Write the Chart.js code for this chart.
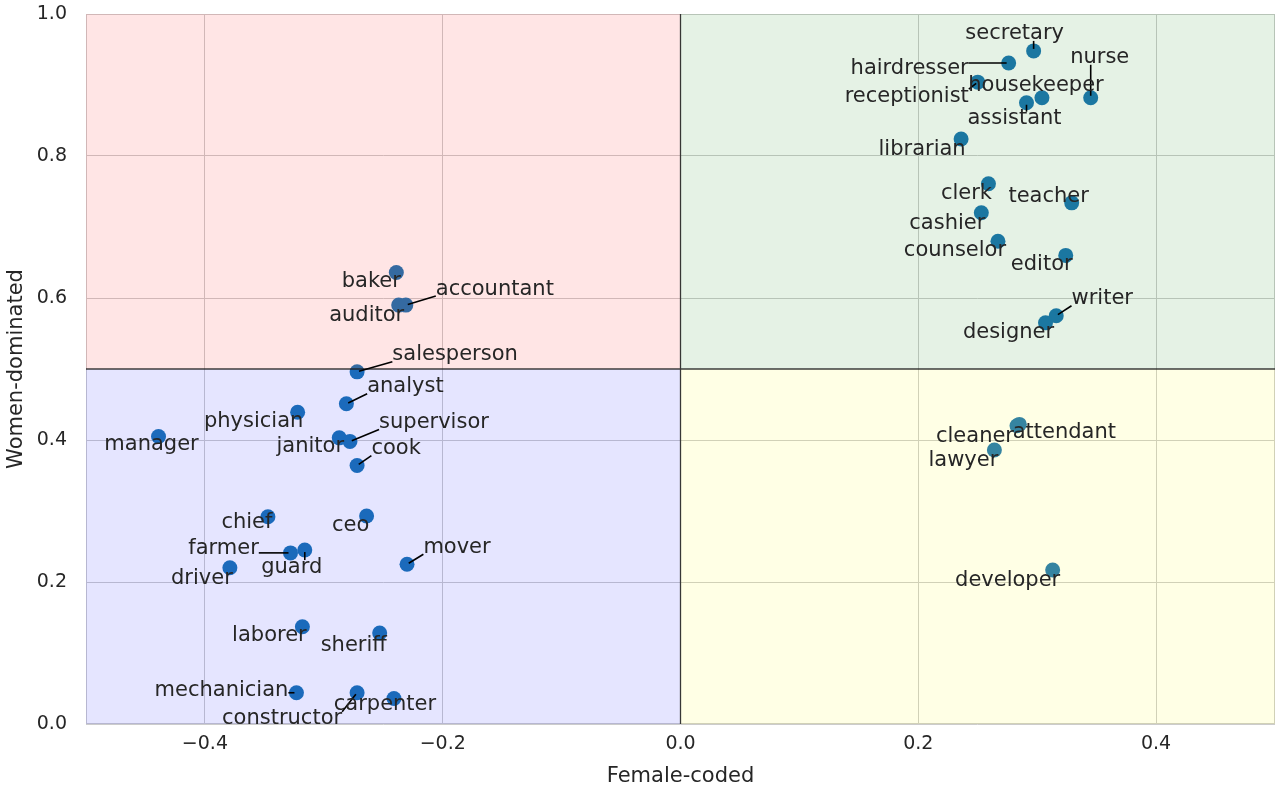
<!DOCTYPE html>
<html>
<head>
<meta charset="utf-8">
<script src="https://cdn.jsdelivr.net/npm/chart.js@4.4.0/dist/chart.umd.min.js"></script>
<style>
    html, body { margin: 0; padding: 0; background: #fff; }
    #wrap { width: 1276px; height: 793px; }
</style>
</head>
<body>
<div id="wrap"><canvas id="chart" width="1276" height="793"></canvas></div>
<script>
// 직업 데이터
const occupations = [
    'manager', 'physician', 'analyst', 'salesperson', 'janitor', 'supervisor', 'cook',
    'baker', 'auditor', 'accountant', 'chief', 'ceo', 'farmer', 'guard', 'driver', 'mover',
    'laborer', 'sheriff', 'mechanician', 'constructor', 'carpenter',
    'secretary', 'hairdresser', 'receptionist', 'housekeeper', 'assistant', 'nurse',
    'librarian', 'clerk', 'teacher', 'cashier', 'counselor', 'editor', 'writer', 'designer',
    'cleaner', 'attendant', 'lawyer', 'developer'
];
const femaleCoded = [
    -0.439, -0.322, -0.281, -0.272, -0.287, -0.278, -0.272,
    -0.239, -0.237, -0.231, -0.347, -0.264, -0.328, -0.316, -0.379, -0.230,
    -0.318, -0.253, -0.323, -0.272, -0.241,
    0.297, 0.276, 0.250, 0.304, 0.291, 0.345,
    0.236, 0.259, 0.329, 0.253, 0.267, 0.324, 0.316, 0.307,
    0.283, 0.285, 0.264, 0.313
];
const womenDominated = [
    0.405, 0.439, 0.451, 0.496, 0.403, 0.398, 0.364,
    0.636, 0.590, 0.590, 0.292, 0.293, 0.241, 0.245, 0.220, 0.225,
    0.137, 0.128, 0.044, 0.044, 0.036,
    0.948, 0.931, 0.904, 0.882, 0.875, 0.882,
    0.824, 0.761, 0.734, 0.720, 0.680, 0.660, 0.575, 0.565,
    0.420, 0.422, 0.386, 0.217
];
const xTicks = [-0.4, -0.2, 0, 0.2, 0.4];
const yTicks = [0, 0.2, 0.4, 0.6, 0.8, 1.0];
const splitX = 0;
const splitY = 0.5;

// 라벨 위치 (점 기준 픽셀 오프셋)
const labelOffsets = {
    manager: [-7, 8], physician: [-44, 9], analyst: [59, -17], salesperson: [98, -17],
    janitor: [-29, 9], supervisor: [84, -19], cook: [39, -17], baker: [-25, 9],
    auditor: [-32, 10], accountant: [89, -16], chief: [-21, 6], ceo: [-16, 10],
    farmer: [-67, -4], guard: [-13, 17], driver: [-28, 11], mover: [50, -17],
    laborer: [-33, 9], sheriff: [-26, 12], mechanician: [-75, -2], constructor: [-75, 26],
    carpenter: [-9, 6], secretary: [-19, -17], hairdresser: [-99, 6], receptionist: [-71, 14],
    housekeeper: [-6, -12], assistant: [-12, 16], nurse: [9, -40], librarian: [-39, 11],
    clerk: [-22, 10], teacher: [-23, -6], cashier: [-34, 11], counselor: [-43, 9],
    editor: [-24, 9], writer: [46, -17], designer: [-37, 10], cleaner: [-42, 11],
    attendant: [45, 8], lawyer: [-31, 11], developer: [-45, 11]
};

const FONT = '"DejaVu Sans", sans-serif';
const TEXT_COLOR = '#262626';

// 사분면, 기준선, 라벨 그리기
const quadrantPlugin = {
    id: 'quadrants',
    beforeDatasetsDraw(chart) {
        const { ctx, chartArea: a } = chart;
        ctx.save();
        ctx.strokeStyle = '#cccccc';
        ctx.lineWidth = 1;
        ctx.strokeRect(a.left + 0.5, a.top + 0.5, a.right - a.left - 1, a.bottom - a.top - 1);
        ctx.restore();
    },
    afterDatasetsDraw(chart) {
        const { ctx, chartArea: a, scales } = chart;
        const x0 = scales.x.getPixelForValue(splitX);
        const y0 = scales.y.getPixelForValue(splitY);
        ctx.save();

        const spans = [
            [a.left, a.top, x0, y0, 'rgba(255,0,0,0.1)'],
            [x0, a.top, a.right, y0, 'rgba(0,128,0,0.1)'],
            [a.left, y0, x0, a.bottom, 'rgba(0,0,255,0.1)'],
            [x0, y0, a.right, a.bottom, 'rgba(255,255,0,0.1)']
        ];
        spans.forEach(([l, t, r, b, c]) => {
            ctx.fillStyle = c;
            ctx.fillRect(l, t, r - l, b - t);
        });

        // 기준선
        ctx.strokeStyle = 'rgba(30,30,30,0.85)';
        ctx.lineWidth = 1.3;
        ctx.beginPath();
        ctx.moveTo(x0, a.top);
        ctx.lineTo(x0, a.bottom);
        ctx.moveTo(a.left, y0);
        ctx.lineTo(a.right, y0);
        ctx.stroke();

        // 라벨과 연결선
        ctx.font = '21px ' + FONT;
        ctx.textAlign = 'center';
        ctx.textBaseline = 'middle';
        const h = 14;
        occupations.forEach((name, i) => {
            const px = scales.x.getPixelForValue(femaleCoded[i]);
            const py = scales.y.getPixelForValue(womenDominated[i]);
            const [dx, dy] = labelOffsets[name] || [0, 12];
            const cx = px + dx, cy = py + dy;
            const w = ctx.measureText(name).width;
            const qx = Math.min(Math.max(px, cx - w / 2), cx + w / 2);
            const qy = Math.min(Math.max(py, cy - h / 2), cy + h / 2);
            const dist = Math.hypot(px - qx, py - qy);
            if (dist > 5) {
                const k = (dist - 2) / dist;
                ctx.strokeStyle = '#000';
                ctx.lineWidth = 1.6;
                ctx.beginPath();
                ctx.moveTo(qx, qy);
                ctx.lineTo(qx + (px - qx) * k, qy + (py - qy) * k);
                ctx.stroke();
            }
        });
        ctx.fillStyle = TEXT_COLOR;
        occupations.forEach((name, i) => {
            const px = scales.x.getPixelForValue(femaleCoded[i]);
            const py = scales.y.getPixelForValue(womenDominated[i]);
            const [dx, dy] = labelOffsets[name] || [0, 12];
            ctx.fillText(name, px + dx, py + dy);
        });
        ctx.restore();
    }
};

function formatTick(v) {
    const s = Math.abs(v).toFixed(1);
    return v < -1e-9 ? '\u2212' + s : s;
}

function noPadding(scale) {
    scale.paddingTop = 0;
    scale.paddingBottom = 0;
    scale.paddingLeft = 0;
    scale.paddingRight = 0;
}

new Chart(document.getElementById('chart').getContext('2d'), {
    type: 'scatter',
    data: {
        datasets: [{
            data: occupations.map((_, i) => ({ x: femaleCoded[i], y: womenDominated[i] })),
            backgroundColor: '#1f77b4',
            borderWidth: 0,
            pointRadius: 7.5,
            pointHoverRadius: 7.5
        }]
    },
    options: {
        responsive: false,
        animation: false,
        layout: { autoPadding: false, padding: { top: 14, right: 1, left: 0, bottom: 0 } },
        plugins: {
            legend: { display: false },
            tooltip: { enabled: false }
        },
        scales: {
            x: {
                type: 'linear',
                min: -0.5,
                max: 0.5,
                afterBuildTicks: (scale) => { scale.ticks = xTicks.map(v => ({ value: v })); },
                afterFit: (scale) => { scale.height = 69; noPadding(scale); },
                grid: { color: '#cccccc', lineWidth: 1, drawTicks: false },
                border: { display: false },
                ticks: {
                    padding: 9,
                    color: TEXT_COLOR,
                    font: { family: FONT, size: 19 },
                    callback: formatTick
                },
                title: {
                    display: true,
                    text: 'Female-coded',
                    color: TEXT_COLOR,
                    font: { family: FONT, size: 21 },
                    padding: { top: 4, bottom: 4 }
                }
            },
            y: {
                type: 'linear',
                min: 0,
                max: 1,
                afterBuildTicks: (scale) => { scale.ticks = yTicks.map(v => ({ value: v })); },
                afterFit: (scale) => { scale.width = 86; noPadding(scale); },
                grid: { color: '#cccccc', lineWidth: 1, drawTicks: false },
                border: { display: false },
                ticks: {
                    padding: 19,
                    color: TEXT_COLOR,
                    font: { family: FONT, size: 19 },
                    callback: formatTick
                },
                title: {
                    display: true,
                    text: 'Women-dominated',
                    color: TEXT_COLOR,
                    font: { family: FONT, size: 21 },
                    padding: { top: 4, bottom: 4 }
                }
            }
        }
    },
    plugins: [quadrantPlugin]
});
</script>
</body>
</html>
